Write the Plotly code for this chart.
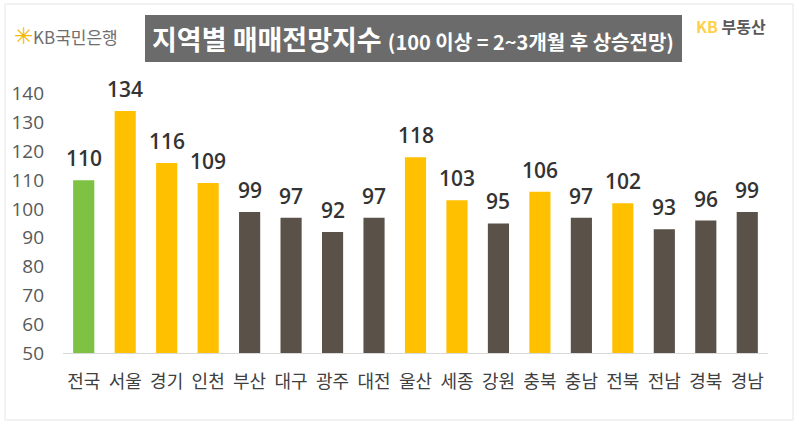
import plotly.graph_objects as go

regions = ["전국", "서울", "경기", "인천", "부산", "대구", "광주", "대전", "울산",
           "세종", "강원", "충북", "충남", "전북", "전남", "경북", "경남"]
values = [110, 134, 116, 109, 99, 97, 92, 97, 118, 103, 95, 106, 97, 102, 93, 96, 99]
y_ticks = [50, 60, 70, 80, 90, 100, 110, 120, 130, 140]

GREEN = "#7DC242"
YELLOW = "#FFC000"
DARK = "#5A5148"

colors = [GREEN if i == 0 else (YELLOW if v >= 100 else DARK) for i, v in enumerate(values)]
base = 50

fig = go.Figure()
fig.add_trace(go.Bar(
    x=regions,
    y=[v - base for v in values],
    base=base,
    marker=dict(color=colors, line=dict(width=0)),
    hoverinfo="skip",
))

for r, v in zip(regions, values):
    fig.add_annotation(
        x=r, y=v, xref="x", yref="y",
        text=str(v), showarrow=False,
        xanchor="center", yanchor="bottom", yshift=6,
        font=dict(family="Open Sans, Noto Sans, sans-serif", size=21, color="#333333", weight=600),
    )

fig.update_layout(
    width=799, height=425,
    margin=dict(l=63, r=31, t=65, b=72),
    paper_bgcolor="white",
    plot_bgcolor="white",
    bargap=0.49,
    showlegend=False,
    font=dict(family="Noto Sans CJK KR, Noto Sans, sans-serif"),
    xaxis=dict(
        type="category",
        showgrid=False,
        showline=True,
        linecolor="#D9D9D9",
        linewidth=1,
        ticks="",
        tickfont=dict(family="Noto Sans CJK KR", size=18, color="#404040"),
        ticklabelstandoff=12,
    ),
    yaxis=dict(
        range=[50, 150],
        tickvals=y_ticks,
        ticktext=[str(t) for t in y_ticks],
        showgrid=False,
        zeroline=False,
        showline=False,
        tickfont=dict(family="Open Sans, Noto Sans, sans-serif", size=19, color="#595959"),
        ticklabelstandoff=18,
    ),
)

# outer frame
fig.add_shape(type="rect", xref="paper", yref="paper",
              x0=-58/705, x1=730/705, y0=-67/288, y1=(353-4)/288,
              line=dict(color="#E6E6E6", width=1), fillcolor="rgba(0,0,0,0)", layer="below")

# title box
fig.add_shape(type="rect", xref="paper", yref="paper",
              x0=(145-63)/705, x1=(682-63)/705, y0=(353-62)/288, y1=(353-15)/288,
              line=dict(width=0), fillcolor="#6B6B6B", layer="below")

fig.add_annotation(
    xref="paper", yref="paper",
    x=(150-63)/705, y=(353-38.5)/288,
    xanchor="left", yanchor="middle", showarrow=False,
    text="<b><span style='font-size:27px'>지역별 매매전망지수</span> <span style='font-size:20px'>(100 이상 = 2~3개월 후 상승전망)</span></b>",
    font=dict(family="Noto Sans CJK KR", color="white", size=27),
)

# KB Kookmin logo
fig.add_annotation(
    xref="paper", yref="paper",
    x=(12-63)/705, y=(353-34)/288,
    xanchor="left", yanchor="middle", showarrow=False,
    text="<span style='color:#F5B800;font-size:23px'>✳</span><span style='color:#6E6E6E'>KB국민은행</span>",
    font=dict(family="Noto Sans CJK KR", size=17, color="#6E6E6E"),
)

# KB 부동산 logo
fig.add_annotation(
    xref="paper", yref="paper",
    x=(694-63)/705, y=(353-26)/288,
    xanchor="left", yanchor="middle", showarrow=False,
    text="<span style='color:#FFD04A'><b>KB</b></span> <span style='color:#595959'><b>부동산</b></span>",
    font=dict(family="Noto Sans CJK KR", size=16, color="#595959"),
)

fig.write_html("out.html")
